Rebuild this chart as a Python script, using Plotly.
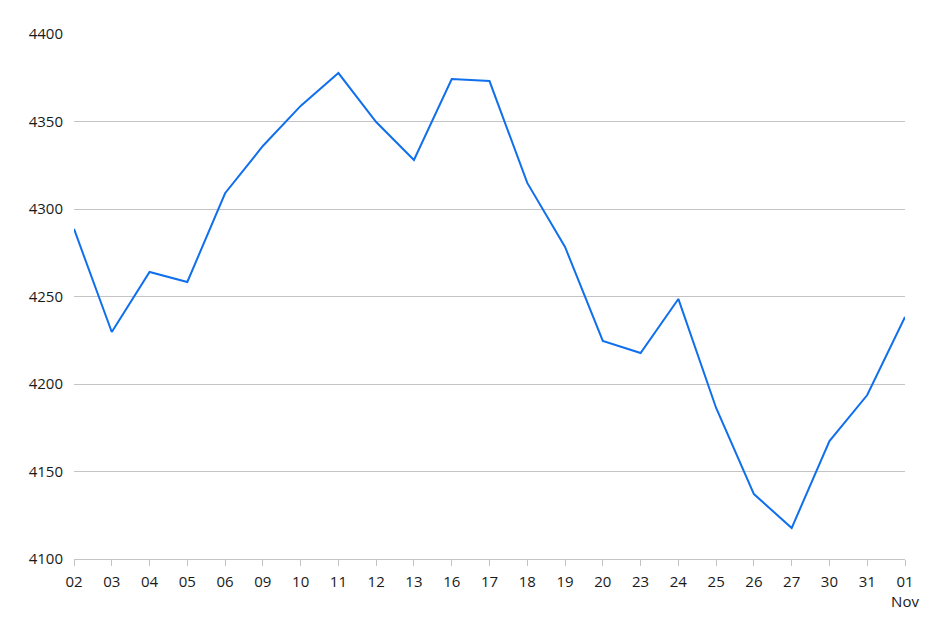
import plotly.graph_objects as go

days = ["02", "03", "04", "05", "06", "09", "10", "11", "12", "13", "16", "17",
        "18", "19", "20", "23", "24", "25", "26", "27", "30", "31", "01<br>Nov"]
values = [4288.6, 4229.7, 4264.0, 4258.3, 4309.0, 4336.0, 4358.9, 4377.7, 4349.7,
          4328.0, 4374.3, 4373.1, 4314.9, 4278.3, 4224.6, 4217.7, 4248.6, 4186.3,
          4137.1, 4117.7, 4167.4, 4193.7, 4238.3]
y_ticks = [4100, 4150, 4200, 4250, 4300, 4350, 4400]

x_idx = list(range(len(days)))

fig = go.Figure(go.Scatter(
    x=x_idx, y=values, mode="lines",
    line=dict(color="#0f6fec", width=2),
    hoverinfo="skip",
))

fig.update_layout(
    width=945, height=644,
    margin=dict(l=66, r=48, t=26, b=93),
    paper_bgcolor="white", plot_bgcolor="white",
    font=dict(family="Open Sans, sans-serif", size=15, color="#1a1a1a"),
    showlegend=False,
    xaxis=dict(
        range=[0, len(days) - 1],
        tickmode="array", tickvals=x_idx, ticktext=days,
        showgrid=False, zeroline=False,
        showline=True, linecolor="#c4c4c4", linewidth=1,
        ticks="outside", ticklen=6, tickcolor="#c4c4c4",
        ticklabelstandoff=3,
        tickfont=dict(size=15, color="#1a1a1a"),
        fixedrange=True,
    ),
    yaxis=dict(
        range=[4100, 4400],
        tickmode="array", tickvals=y_ticks,
        showgrid=True, gridcolor="#c4c4c4", gridwidth=1,
        zeroline=False, showline=False,
        ticks="", ticklabelstandoff=10,
        tickfont=dict(size=15, color="#1a1a1a"),
        fixedrange=True,
    ),
)

fig.write_html("out.html")
